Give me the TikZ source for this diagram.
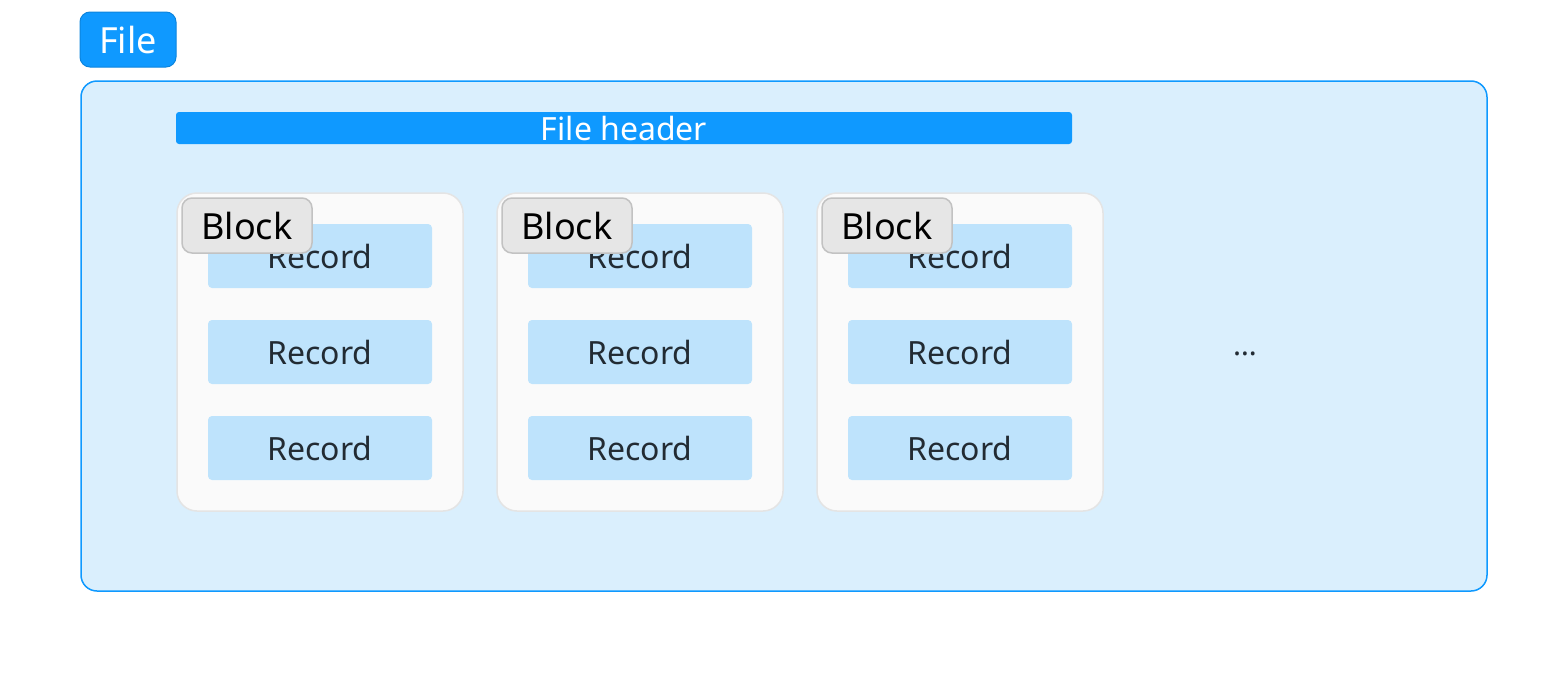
\documentclass[tikz,border=0pt]{standalone}
\usepackage{fontspec}
\setmainfont{Noto Sans}
\definecolor{fileblue}{HTML}{0F99FF}
\definecolor{fileedge}{HTML}{0C84DD}
\definecolor{contfill}{HTML}{DAEFFD}
\definecolor{blockfill}{HTML}{FAFAFA}
\definecolor{blockedge}{HTML}{E4E4E4}
\definecolor{tagfill}{HTML}{E6E6E6}
\definecolor{tagedge}{HTML}{C2C2C2}
\definecolor{recfill}{HTML}{BEE3FC}
\definecolor{rectext}{HTML}{222B33}
\tikzset{
  filetag/.style={draw=fileedge, line width=1pt, fill=fileblue, rounded corners=10pt, minimum width=96pt, minimum height=55pt, inner sep=0pt, text=white, font=\fontsize{36}{40}\selectfont},
  container/.style={draw=fileblue, line width=1.5pt, fill=contfill, rounded corners=16pt, minimum width=1406pt, minimum height=510pt, inner sep=0pt},
  header/.style={fill=fileblue, rounded corners=3pt, minimum width=896pt, minimum height=32pt, inner sep=0pt, text=white, font=\fontsize{32}{36}\selectfont},
  blockbox/.style={draw=blockedge, line width=1.5pt, fill=blockfill, rounded corners=20pt, minimum width=286pt, minimum height=318pt, inner sep=0pt},
  blocktag/.style={draw=tagedge, line width=1.5pt, fill=tagfill, rounded corners=10pt, minimum width=130pt, minimum height=55pt, inner sep=0pt, text=black, font=\fontsize{36}{40}\selectfont},
  recordbox/.style={fill=recfill, rounded corners=4pt, minimum width=224pt, minimum height=64pt, inner sep=0pt, text=rectext, font=\fontsize{32}{36}\selectfont},
  dotsnode/.style={inner sep=0pt, text=rectext, font=\fontsize{30}{32}\bfseries\selectfont}
}
\begin{document}
\begin{tikzpicture}[x=1pt,y=-1pt]
\useasboundingbox (0,0) rectangle (1568,672);
\node[filetag] (filetag) at (128,39.5) {\raisebox{-3pt}{File}};
\node[container] (cont) at (784,336) {};
\node[header] (hdr) at (624,128) {File header};
\foreach \i/\x in {1/320,2/640,3/960}{
  \node[blockbox] (blk\i) at (\x,352) {};
  \node[recordbox] (rec\i a) at (\x,256) {Record};
  \node[recordbox] (rec\i b) at (\x,352) {Record};
  \node[recordbox] (rec\i c) at (\x,448) {Record};
  \node[blocktag] (tag\i) at (\x-73,225.5) {\raisebox{-3pt}{Block}};
}
\node[dotsnode] (dots) at (1245,354) {…};
\end{tikzpicture}
\end{document}
